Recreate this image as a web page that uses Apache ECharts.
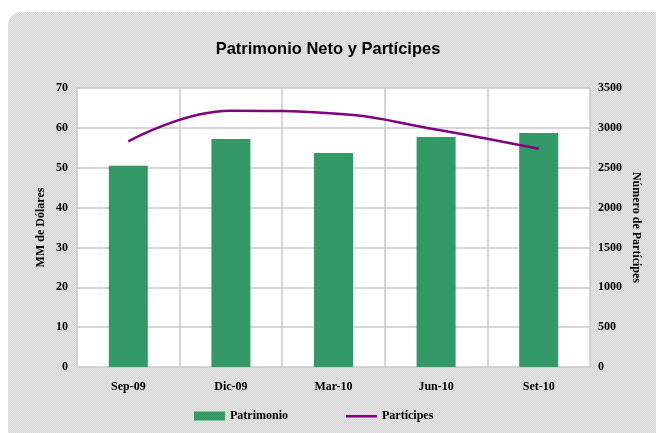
<!DOCTYPE html>
<html>
<head>
<meta charset="utf-8">
<script src="https://cdn.jsdelivr.net/npm/echarts@6/dist/echarts.min.js"></script>
<style>
  body { margin: 0; background: #fff; }
  #fondo {
    position: absolute; left: 8px; top: 12px; width: 670px; height: 440px;
    border-radius: 13px;
    background: repeating-conic-gradient(#d5d5d5 0 25%, #e7e7e7 0 50%) 0 0 / 2px 2px;
  }
  #main { position: absolute; left: 0; top: 0; width: 656px; height: 433px; }
</style>
</head>
<body>
<div id="fondo"></div>
<div id="main"></div>
<script>
var trimestres = ['Sep-09', 'Dic-09', 'Mar-10', 'Jun-10', 'Set-10'];
var patrimonio = [50.5, 57.2, 53.7, 57.7, 58.7];
var participes = [2830, 3215, 3180, 2980, 2737];
var ticksIzq = [0, 70, 10];
var ticksDer = [0, 3500, 500];

var chart = echarts.init(document.getElementById('main'));

var etiqueta = {
  fontFamily: 'Liberation Serif',
  fontWeight: 'bold',
  fontSize: 12,
  color: '#000'
};

// icono de linea fina: puntos casi invisibles en las esquinas para que no se estire
var iconoLinea = 'path://M0,0L0.05,0L0.05,0.05Z M0,3.5L31,3.5L31,6L0,6Z M31,9L30.95,9L30.95,8.95Z';

var option = {
  backgroundColor: 'transparent',
  animation: false,
  title: {
    text: 'Patrimonio Neto y Partícipes',
    left: 'center',
    top: 36,
    textStyle: {
      fontFamily: 'Liberation Sans',
      fontWeight: 'bold',
      fontSize: 16.5,
      color: '#000'
    }
  },
  legend: {
    left: 189,
    top: 405,
    itemGap: 58,
    itemWidth: 31,
    itemHeight: 9,
    textStyle: etiqueta,
    data: [
      { name: 'Patrimonio', icon: 'rect' },
      { name: 'Partícipes', icon: iconoLinea }
    ]
  },
  grid: {
    left: 77,
    right: 66,
    top: 88,
    bottom: 66,
    show: true,
    backgroundColor: '#fff',
    borderWidth: 0
  },
  xAxis: {
    type: 'category',
    data: trimestres,
    axisLine: { show: false },
    axisTick: { show: false },
    axisLabel: Object.assign({ margin: 14 }, etiqueta),
    splitLine: { show: true, lineStyle: { color: '#c8c8c8', width: 1.5 } }
  },
  yAxis: [
    {
      type: 'value',
      min: ticksIzq[0],
      max: ticksIzq[1],
      interval: ticksIzq[2],
      name: 'MM de Dólares',
      nameLocation: 'middle',
      nameRotate: 90,
      nameGap: 30,
      nameMoveOverlap: false,
      nameTextStyle: etiqueta,
      axisLine: { show: false },
      axisTick: { show: false },
      axisLabel: Object.assign({ margin: 9 }, etiqueta),
      splitLine: { lineStyle: { color: '#c8c8c8', width: 1.5 } }
    },
    {
      type: 'value',
      min: ticksDer[0],
      max: ticksDer[1],
      interval: ticksDer[2],
      name: 'Número de Partícipes',
      nameLocation: 'middle',
      nameRotate: -90,
      nameGap: 40,
      nameMoveOverlap: false,
      nameTextStyle: etiqueta,
      axisLine: { show: false },
      axisTick: { show: false },
      axisLabel: Object.assign({
        margin: 8,
        formatter: function (v) { return String(v); }
      }, etiqueta),
      splitLine: { show: false }
    }
  ],
  series: [
    {
      name: 'Patrimonio',
      type: 'bar',
      yAxisIndex: 0,
      barWidth: 39,
      itemStyle: { color: '#339966' },
      data: patrimonio
    },
    {
      name: 'Partícipes',
      type: 'line',
      yAxisIndex: 1,
      smooth: 0.45,
      symbol: 'none',
      lineStyle: { color: '#800080', width: 2.5 },
      itemStyle: { color: '#800080' },
      data: participes
    }
  ]
};

chart.setOption(option);
</script>
</body>
</html>
